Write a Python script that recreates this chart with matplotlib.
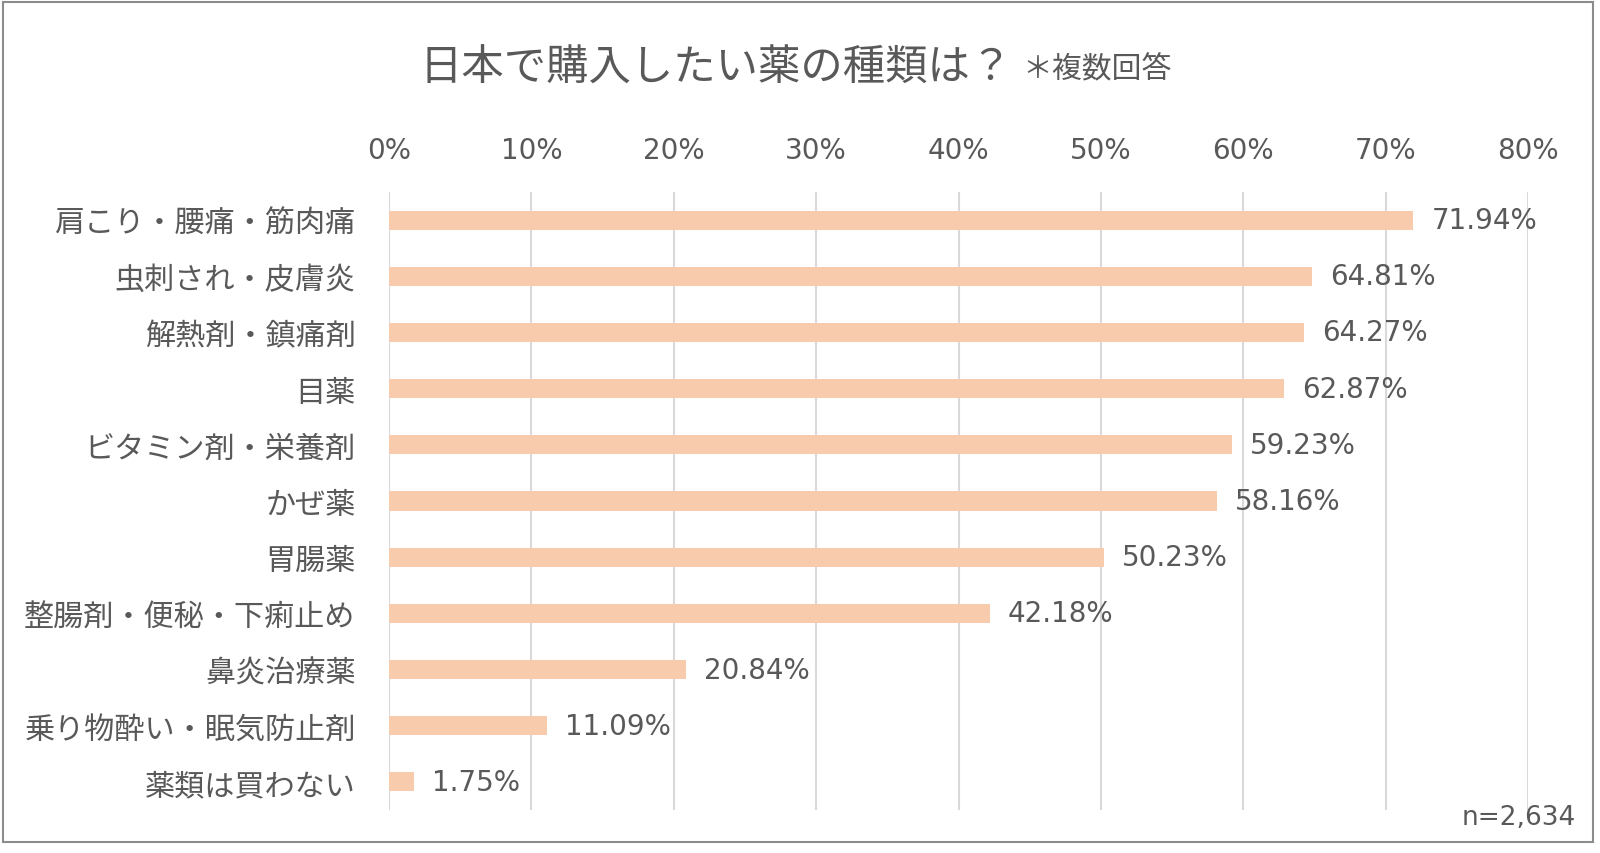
import matplotlib
matplotlib.use("Agg")
import matplotlib.pyplot as plt
from matplotlib.patches import Rectangle
from matplotlib.ticker import PercentFormatter

# data
categories = [
    "肩こり・腰痛・筋肉痛",
    "虫刺され・皮膚炎",
    "解熱剤・鎮痛剤",
    "目薬",
    "ビタミン剤・栄養剤",
    "かぜ薬",
    "胃腸薬",
    "整腸剤・便秘・下痢止め",
    "鼻炎治療薬",
    "乗り物酔い・眠気防止剤",
    "薬類は買わない",
]
values = [71.94, 64.81, 64.27, 62.87, 59.23, 58.16, 50.23, 42.18, 20.84, 11.09, 1.75]
x_ticks = [0, 10, 20, 30, 40, 50, 60, 70, 80]
title_main = "日本で購入したい薬の種類は？"
title_note = "＊複数回答"
sample_note = "n=2,634"

TEXT = "#595959"
BAR = "#F8CBAD"
GRID = "#D9D9D9"
JP = ["Noto Sans CJK JP", "DejaVu Sans"]
NUM = ["DejaVu Sans", "Noto Sans CJK JP"]

W, H = 1600, 854
fig = plt.figure(figsize=(W / 100, H / 100), dpi=100)
fig.patch.set_facecolor("white")

# axes placed in pixel terms of the reference
left, right, top, bottom = 389, 1528, 193, 811
ax = fig.add_axes([left / W, 1 - bottom / H, (right - left) / W, (bottom - top) / H])

pos = list(range(len(categories)))
ax.barh(pos, values, height=0.34, color=BAR, zorder=2)
ax.set_ylim(len(categories) - 0.5, -0.5)
ax.set_xlim(0, 80)

ax.xaxis.tick_top()
ax.set_xticks(x_ticks)
ax.xaxis.set_major_formatter(PercentFormatter(decimals=0))
ax.tick_params(axis="x", length=0, pad=20, labelsize=20, labelcolor=TEXT)
for lbl in ax.get_xticklabels():
    lbl.set_family(NUM)

ax.set_yticks(pos)
ax.set_yticklabels(categories, family=JP, fontsize=21.7, color=TEXT)
ax.tick_params(axis="y", length=0, pad=24)

ax.grid(axis="x", color=GRID, linewidth=1.5, zorder=0)
for s in ax.spines.values():
    s.set_visible(False)

for p, v in zip(pos, values):
    ax.annotate(f"{v:.2f}%", (v, p), xytext=(13, 0), textcoords="offset points",
                va="center", ha="left", fontsize=20, color=TEXT, family=NUM)

# titles
fig.text(420 / W, 1 - 69 / H, title_main, family=JP, fontsize=30.5,
         color=TEXT, ha="left", va="center")
fig.text(1022 / W, 1 - 70 / H, title_note, family=JP, fontsize=21.5,
         color=TEXT, ha="left", va="center")
fig.text(1576 / W, 1 - 818 / H, sample_note, family=NUM, fontsize=19,
         color=TEXT, ha="right", va="center")

# outer frame
fig.patches.append(Rectangle((3 / W, 1 - 843 / H), (1593 - 3) / W, (843 - 3) / H,
                             transform=fig.transFigure, fill=False,
                             edgecolor="#8C8C8C", linewidth=1.5))

fig.savefig("out.png", dpi=100)
